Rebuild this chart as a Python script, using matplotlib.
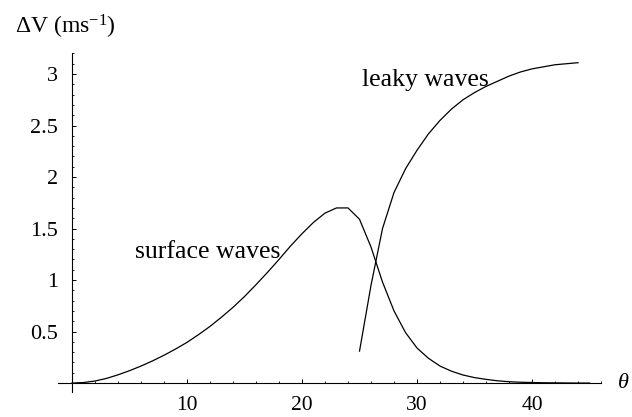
import numpy as np
import matplotlib
matplotlib.use("Agg")
import matplotlib.pyplot as plt

plt.rcParams['font.family'] = ['Liberation Serif', 'DejaVu Serif']
plt.rcParams['mathtext.fontset'] = 'custom'
plt.rcParams['mathtext.rm'] = 'Liberation Serif'
plt.rcParams['mathtext.it'] = 'Liberation Serif:italic'

# angle (deg) and velocity difference
theta_surface = list(range(0, 46))
dv_surface = [0.0, 0.005, 0.02, 0.045, 0.08, 0.12, 0.165, 0.215, 0.27, 0.33,
              0.395, 0.47, 0.55, 0.64, 0.735, 0.84, 0.955, 1.075, 1.20, 1.33,
              1.45, 1.56, 1.65, 1.70, 1.70, 1.59, 1.32, 0.98, 0.70, 0.49,
              0.34, 0.24, 0.165, 0.115, 0.078, 0.053, 0.036, 0.022, 0.013, 0.008,
              0.005, 0.003, 0.002, 0.001, 0.0, 0.0]

theta_leaky = list(range(25, 45))
dv_leaky = [0.31, 0.95, 1.50, 1.85, 2.08, 2.26, 2.42, 2.55, 2.66, 2.75,
            2.82, 2.88, 2.93, 2.98, 3.02, 3.05, 3.07, 3.09, 3.10, 3.11]

xticks = [10, 20, 30, 40]
yticks = [0.5, 1, 1.5, 2, 2.5, 3]
yticklabels = ['0.5', '1', '1.5', '2', '2.5', '3']
xminor = [v for v in range(2, 47, 2) if v % 10 != 0]
yminor = [round(0.1 * i, 1) for i in range(1, 33) if i % 5 != 0]

fig = plt.figure(figsize=(6.32, 4.17), dpi=100)
ax = fig.add_axes([0.0921, 0.0604, 0.8589, 0.8115])

ax.plot(theta_surface, dv_surface, color='black', linewidth=0.9)
ax.plot(theta_leaky, dv_leaky, color='black', linewidth=0.9)

ax.set_xlim(-1.2, 46)
ax.set_ylim(-0.085, 3.2)

for s in ['top', 'right']:
    ax.spines[s].set_visible(False)
ax.spines['left'].set_position(('data', 0))
ax.spines['bottom'].set_position(('data', 0))
ax.spines['left'].set_linewidth(0.8)
ax.spines['bottom'].set_linewidth(0.8)

ax.set_xticks(xticks)
ax.set_xticklabels([str(v) for v in xticks])
ax.set_yticks(yticks)
ax.set_yticklabels(yticklabels)
ax.set_xticks(xminor, minor=True)
ax.set_yticks(yminor, minor=True)
ax.tick_params(which='major', direction='in', length=2.6, width=0.7, labelsize=16)
ax.tick_params(which='minor', direction='in', length=1.5, width=0.6)
ax.tick_params(axis='x', which='major', pad=9, labelsize=15.5)
ax.tick_params(axis='y', which='major', pad=10)

ax.text(5.5, 1.21, 'surface waves', fontsize=18.5, ha='left', va='baseline')
ax.text(36.2, 2.88, 'leaky waves', fontsize=18.5, ha='right', va='baseline')

fig.text(15 / 632, (417 - 33.3) / 417, r'ΔV (ms$^{-1}$)', fontsize=17, ha='left', va='baseline')
fig.text(617 / 632, (417 - 383) / 417, r'$\it{\theta}$', fontsize=16, ha='left', va='center')

fig.savefig('out.png', dpi=100)
